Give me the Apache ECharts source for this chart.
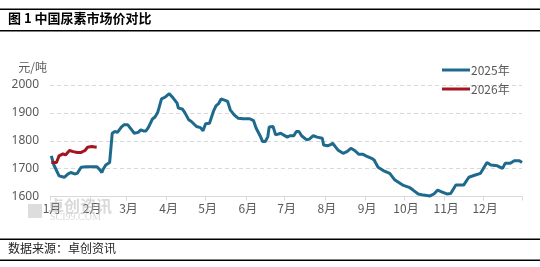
<!DOCTYPE html>
<html><head><meta charset="utf-8">
<script src="https://cdn.jsdelivr.net/npm/echarts@6/dist/echarts.min.js"></script>
<style>html,body{margin:0;padding:0;background:#fff}#c{width:540px;height:267px}</style>
</head><body><div id="c"></div>
<script>
// ---- data ----
const titleText = '图 1 中国尿素市场价对比';
const sourceText = '数据来源：卓创资讯';
const unitText = '元/吨';
const seriesNames = ['2025年', '2026年'];
const monthLabels = ['1月','2月','3月','4月','5月','6月','7月','8月','9月','10月','11月','12月'];
const monthDays = [31,28,31,30,31,30,31,31,30,31,30,31];
const yTicks = [1600, 1700, 1800, 1900, 2000];

const dates2025 = ['1-2','1-4','1-8','1-12','1-15','1-17','1-20','1-22','1-25','1-29','2-6','2-8','2-10','2-11','2-13','2-16','2-18','2-20','2-22','2-25','2-27','3-2','3-5','3-7','3-10','3-12','3-14','3-16','3-18','3-21','3-23','3-25','3-26','3-28','3-31','4-3','4-6','4-9','4-10','4-13','4-15','4-18','4-20','4-24','4-27','4-29','5-1','5-4','5-7','5-9','5-11','5-13','5-16','5-18','5-20','5-23','5-26','5-30','6-4','6-7','6-9','6-12','6-14','6-16','6-18','6-19','6-22','6-24','6-25','6-28','6-30','7-3','7-5','7-8','7-10','7-12','7-14','7-18','7-20','7-23','7-26','7-30','7-31','8-3','8-5','8-7','8-9','8-11','8-15','8-18','8-21','8-24','8-27','8-30','9-2','9-6','9-8','9-9','9-11','9-15','9-20','9-24','9-30','10-5','10-8','10-12','10-16','10-21','10-24','10-27','10-30','11-3','11-6','11-10','11-16','11-20','11-25','11-29','12-2','12-4','12-7','12-12','12-16','12-18','12-22','12-25','12-29','12-31'];
const values2025 = [1746,1713,1674,1669,1681,1686,1681,1683,1705,1707,1707,1698,1686,1698,1713,1722,1827,1833,1830,1849,1857,1857,1839,1827,1830,1839,1835,1835,1849,1878,1885,1901,1917,1950,1957,1969,1953,1935,1917,1914,1901,1875,1869,1851,1847,1836,1861,1863,1905,1925,1933,1950,1945,1941,1911,1893,1881,1879,1879,1872,1845,1818,1797,1797,1815,1849,1851,1821,1815,1827,1821,1813,1818,1818,1833,1833,1818,1803,1806,1818,1813,1809,1785,1782,1785,1791,1779,1767,1755,1761,1773,1765,1752,1752,1745,1737,1731,1722,1705,1693,1683,1659,1641,1633,1623,1609,1605,1602,1609,1623,1617,1609,1611,1641,1641,1669,1677,1683,1707,1722,1713,1710,1701,1719,1719,1728,1728,1722];

const dates2026 = ['1-2','1-6','1-8','1-11','1-13','1-16','1-19','1-22','1-25','1-28','1-30','2-2','2-6'];
const values2026 = [1722,1722,1746,1753,1749,1765,1761,1758,1758,1765,1777,1779,1777];

// ---- build ----
const days = [];
const monthStart = {};
monthDays.forEach((n, m) => {
  for (let d = 1; d <= n; d++) {
    const key = (m + 1) + '-' + d;
    if (d === 1) monthStart[days.length] = monthLabels[m];
    days.push(key);
  }
});
const lastIdx = days.length - 1;
function toSeries(dates, vals) {
  const map = {};
  dates.forEach((d, i) => map[d] = vals[i]);
  return days.map(d => (d in map ? map[d] : null));
}

const chart = echarts.init(document.getElementById('c'), null, {renderer: 'canvas'});
chart.setOption({
  animation: false,
  backgroundColor: '#fff',
  grid: {left: 50, right: 18, top: 85, bottom: 70.5, containLabel: false},
  legend: {
    orient: 'vertical', left: 437, top: 59, itemGap: 7,
    itemWidth: 28, itemHeight: 3, icon: 'rect',
    textStyle: {color: '#595959', fontSize: 12, fontFamily: 'Noto Sans CJK SC', padding: [0,0,0,-4]},
    data: seriesNames
  },
  xAxis: {
    type: 'category', data: days, boundaryGap: false,
    axisLine: {lineStyle: {color: '#D9D9D9', width: 1}},
    axisTick: {length: 4, lineStyle: {color: '#D9D9D9'}, interval: (i) => (i in monthStart) || i === lastIdx},
    axisLabel: {interval: (i) => (i in monthStart), formatter: (v, i) => monthStart[i] || '',
      color: '#595959', fontSize: 12, fontFamily: 'Noto Sans CJK SC', margin: 6, align: 'center', padding: [0,0,0,4]},
    splitLine: {show: false}
  },
  yAxis: {
    type: 'value', min: yTicks[0], max: yTicks[yTicks.length-1], interval: 100,
    name: unitText, nameLocation: 'end', nameGap: 12,
    nameTextStyle: {color: '#595959', fontSize: 12, fontFamily: 'Noto Sans CJK SC', align: 'right', padding: [0, 3, 0, 0]},
    axisLine: {show: false}, axisTick: {show: false},
    axisLabel: {color: '#595959', fontSize: 12, fontFamily: 'Noto Sans', margin: 11, formatter: (v) => String(v)},
    splitLine: {lineStyle: {color: '#D9D9D9', type: [4, 3]}}
  },
  series: [
    {name: seriesNames[0], type: 'line', data: toSeries(dates2025, values2025), connectNulls: true,
     showSymbol: false, lineStyle: {color: '#1E6A8D', width: 3}, itemStyle: {color: '#1E6A8D'}, z: 3},
    {name: seriesNames[1], type: 'line', data: toSeries(dates2026, values2026), connectNulls: true,
     showSymbol: false, lineStyle: {color: '#A3161F', width: 3}, itemStyle: {color: '#A3161F'}, z: 4}
  ],
  graphic: [
    {type: 'rect', shape: {x: 0, y: 8.5, width: 540, height: 1.5}, style: {fill: '#000'}},
    {type: 'rect', shape: {x: 0, y: 30, width: 540, height: 1.5}, style: {fill: '#000'}},
    {type: 'text', left: 8, top: 12, style: {text: titleText, font: 'bold 13px "Noto Sans CJK SC"', fill: '#000'}},
    {type: 'rect', shape: {x: 0, y: 238.5, width: 540, height: 1.5}, style: {fill: '#000'}},
    {type: 'rect', shape: {x: 0, y: 259.5, width: 540, height: 1.5}, style: {fill: '#000'}},
    {type: 'text', left: 8, top: 242, style: {text: sourceText, font: '12px "Noto Sans CJK SC"', fill: '#222'}},
    {type: 'text', left: 48, top: 198, z: 10, style: {text: '卓创资讯', font: 'bold 16px "Noto Sans CJK SC"', fill: 'rgba(180,180,180,0.5)'}},
    {type: 'text', left: 50, top: 212, z: 10, style: {text: 'SCI99.COM', font: '10px "Liberation Serif"', fill: 'rgba(180,180,180,0.5)'}},
    {type: 'rect', z: 10, shape: {x: 28, y: 204, width: 14, height: 14}, style: {fill: 'rgba(180,180,180,0.45)'}}
  ]
});
</script></body></html>
